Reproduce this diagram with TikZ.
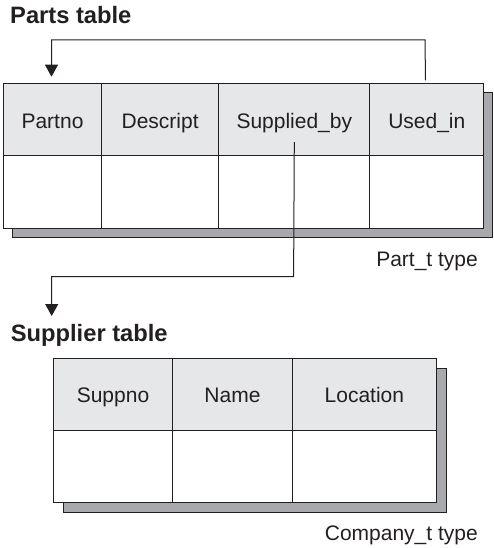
\documentclass[tikz,border=0pt]{standalone}
\usepackage{fontspec}
\setmainfont{Liberation Sans}
\usetikzlibrary{arrows.meta}
\definecolor{ink}{HTML}{231F20}
\definecolor{hdrfill}{HTML}{E6E7E8}
\definecolor{shade}{HTML}{A7A9AC}
\tikzset{
  cell/.style={draw=ink, line width=1pt, rectangle, anchor=north west,
    inner sep=0pt, text=ink, font=\fontsize{21}{25}\selectfont, fill=white,
    text height=17pt, text depth=0pt},
  hdr/.style={cell, fill=hdrfill},
  shadowbox/.style={draw=ink, line width=1pt, fill=shade},
  titletext/.style={anchor=base west, inner sep=0pt, text=ink,
    font=\fontsize{23.7}{28}\selectfont\bfseries},
  typetext/.style={anchor=base east, inner sep=0pt, text=ink,
    font=\fontsize{21}{25}\selectfont},
  conn/.style={draw=ink, line width=1pt},
  tip/.style={-{Triangle[width=13pt,length=12pt]}}
}
\begin{document}
\begin{tikzpicture}[x=1pt,y=-1pt]
\useasboundingbox (0,0) rectangle (493,548);

% ---------- Parts table ----------
\node[titletext] (partstitle) at (10,24) {Parts table};
\draw[shadowbox] (12.5,92.8) rectangle (492.6,237.2);
\node[hdr, minimum width=98pt,    minimum height=71.8pt] (partno)   at (3,83.3)     {Partno};
\node[hdr, minimum width=117.3pt, minimum height=71.8pt] (descript) at (101,83.3)   {Descript};
\node[hdr, minimum width=151pt,   minimum height=71.8pt] (supplied) at (218.3,83.3) {Supplied\_by};
\node[hdr, minimum width=114pt,   minimum height=71.8pt] (usedin)   at (369.3,83.3) {Used\_in};
\node[cell, minimum width=98pt,    minimum height=72.5pt] (p1) at (3,155.1)     {};
\node[cell, minimum width=117.3pt, minimum height=72.5pt] (p2) at (101,155.1)   {};
\node[cell, minimum width=151pt,   minimum height=72.5pt] (p3) at (218.3,155.1) {};
\node[cell, minimum width=114pt,   minimum height=72.5pt] (p4) at (369.3,155.1) {};
\node[typetext] (parttype) at (478,266.5) {Part\_t type};

% ---------- Supplier table ----------
\node[titletext] (suptitle) at (10.7,341.7) {Supplier table};
\draw[shadowbox] (63.2,368.2) rectangle (446.5,512.2);
\node[hdr, minimum width=119.6pt, minimum height=72.3pt] (suppno)   at (52.7,357.7)  {Suppno};
\node[hdr, minimum width=119.4pt, minimum height=72.3pt] (name)     at (172.3,357.7) {Name};
\node[hdr, minimum width=144.3pt, minimum height=72.3pt] (location) at (291.7,357.7) {Location};
\node[cell, minimum width=119.6pt, minimum height=71.7pt] (s1) at (52.7,430)  {};
\node[cell, minimum width=119.4pt, minimum height=71.7pt] (s2) at (172.3,430) {};
\node[cell, minimum width=144.3pt, minimum height=71.7pt] (s3) at (291.7,430) {};
\node[typetext] (comptype) at (478,540) {Company\_t type};

% ---------- References ----------
\coordinate (usedinup) at (425,40);
\draw[conn, tip] ([xshift=-1.3pt,yshift=3pt]usedin.north) -- (usedinup)
  -| ([xshift=-1pt,yshift=6.6pt]partno.north);

\coordinate (supbend) at (293.6,276.7);
\coordinate (supin) at (51.7,316);
\draw[conn, tip] ([yshift=-22.5pt]supplied.center) -- (supbend) -| (supin);
\end{tikzpicture}
\end{document}
